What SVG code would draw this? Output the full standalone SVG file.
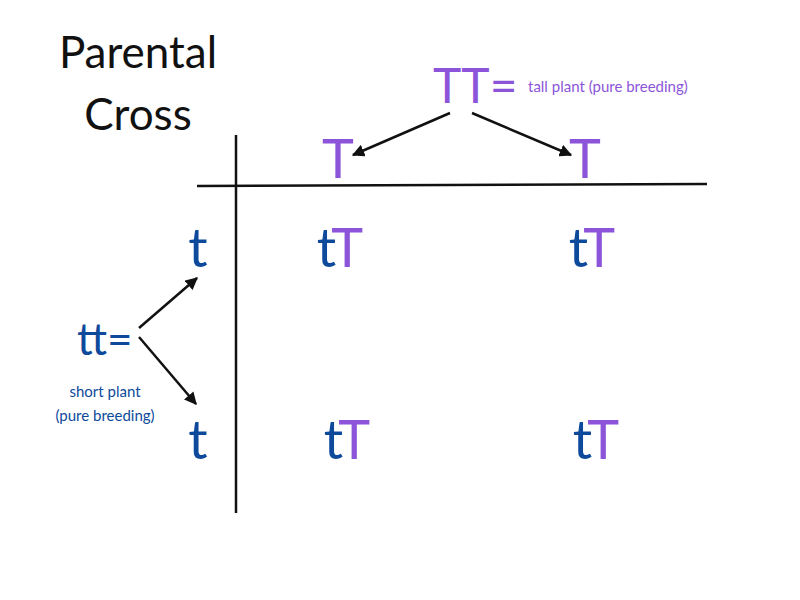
<svg xmlns="http://www.w3.org/2000/svg" width="800" height="600" viewBox="0 0 800 600">
<defs>
<style>
text{font-family:"Lato","Open Sans",sans-serif}
.p{fill:#8c55d9}.b{fill:#0d4a9c}.k{fill:#111}
.big{font-size:54px}
.line{stroke:#111;stroke-width:2.5;fill:none}
.arr{stroke:#111;stroke-width:2.5;fill:none;marker-end:url(#ah)}
</style>
<marker id="ah" viewBox="0 0 10 10" refX="9" refY="5" markerWidth="5" markerHeight="5" orient="auto"><path d="M0,0L10,5L0,10z" fill="#111"/></marker>
</defs>
<rect width="800" height="600" fill="#fff"/>
<g id="title"><text class="k" x="138" y="68" font-size="44" text-anchor="middle">Parental</text><text class="k" x="138" y="130" font-size="44" text-anchor="middle">Cross</text></g>
<g id="grid"><line class="line" x1="197" y1="186" x2="707" y2="184"/><line class="line" x1="236" y1="135" x2="236" y2="513"/></g>
<g id="TT"><text class="p" x="433" y="103" font-size="48">TT=</text><text class="p" x="528" y="92" font-size="15">tall plant (pure breeding)</text></g>
<g id="T1"><text class="p big" x="338" y="178" text-anchor="middle">T</text></g>
<g id="T2"><text class="p big" x="585" y="178" text-anchor="middle">T</text></g>
<g id="tt"><text class="b" x="77" y="355" font-size="44">tt=</text><text class="b" x="105" y="397" font-size="15" text-anchor="middle">short plant</text><text class="b" x="105" y="421" font-size="15" text-anchor="middle">(pure breeding)</text></g>
<g id="t1"><text class="b big" x="198" y="267" text-anchor="middle">t</text></g>
<g id="t2"><text class="b big" x="198" y="459" text-anchor="middle">t</text></g>
<g id="c11"><text class="big" x="340" y="267" text-anchor="middle"><tspan class="b">t</tspan><tspan class="p">T</tspan></text></g>
<g id="c12"><text class="big" x="592" y="267" text-anchor="middle"><tspan class="b">t</tspan><tspan class="p">T</tspan></text></g>
<g id="c21"><text class="big" x="347" y="459" text-anchor="middle"><tspan class="b">t</tspan><tspan class="p">T</tspan></text></g>
<g id="c22"><text class="big" x="596" y="459" text-anchor="middle"><tspan class="b">t</tspan><tspan class="p">T</tspan></text></g>
<g id="connectors">
<line class="arr" x1="450" y1="113" x2="353" y2="155"/>
<line class="arr" x1="472" y1="113" x2="571" y2="155"/>
<line class="arr" x1="139" y1="328" x2="197" y2="278"/>
<line class="arr" x1="139" y1="337" x2="196" y2="404"/>
</g>
</svg>
